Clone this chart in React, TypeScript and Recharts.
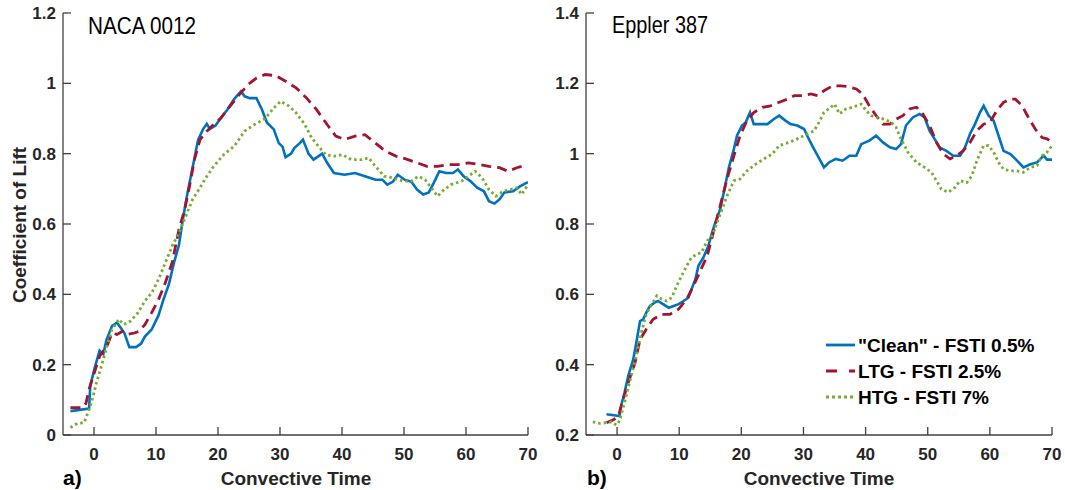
import { LineChart, Line, XAxis, YAxis } from 'recharts';

// [convective time, lift coefficient]
const nacaClean: [number, number][] = [
  [-3.8, 0.068], [-0.8, 0.075], [-0.6, 0.14], [0.1, 0.19], [0.9, 0.24], [1.5, 0.23], [2.0, 0.27],
  [2.9, 0.31], [3.7, 0.32], [4.3, 0.305], [4.9, 0.29], [5.7, 0.25], [6.8, 0.25], [7.6, 0.26],
  [8.2, 0.28], [9.3, 0.3], [10.4, 0.34], [11.2, 0.385], [12.1, 0.43], [12.9, 0.49], [13.7, 0.54],
  [14.3, 0.61], [15.1, 0.69], [15.9, 0.76], [16.8, 0.84], [17.6, 0.87], [18.2, 0.885], [18.7, 0.87],
  [19.6, 0.88], [20.4, 0.9], [21.5, 0.925], [22.6, 0.955], [23.7, 0.977], [24.3, 0.963], [25.1, 0.958],
  [26.2, 0.958], [27.1, 0.925], [27.9, 0.888], [29.0, 0.869], [29.8, 0.83], [30.4, 0.82], [30.9, 0.79],
  [31.8, 0.8], [32.3, 0.816], [33.2, 0.83], [33.7, 0.84], [34.6, 0.8], [35.4, 0.783], [36.8, 0.8],
  [37.6, 0.774], [38.7, 0.745], [40.4, 0.74], [42.1, 0.745], [43.7, 0.736], [45.4, 0.726], [46.5, 0.726],
  [47.3, 0.712], [48.2, 0.72], [49.0, 0.74], [50.1, 0.726], [51.2, 0.72], [52.1, 0.698], [53.1, 0.684],
  [54.0, 0.69], [54.8, 0.717], [55.7, 0.75], [56.8, 0.745], [57.9, 0.745], [58.7, 0.755], [59.6, 0.736],
  [60.7, 0.722], [61.8, 0.703], [62.9, 0.693], [63.7, 0.665], [64.6, 0.658], [65.4, 0.67], [66.2, 0.69],
  [67.6, 0.693], [68.7, 0.707], [70.0, 0.719],
];

const nacaLtg: [number, number][] = [
  [-3.8, 0.078], [-1.8, 0.078], [-1.3, 0.09], [-0.8, 0.13], [-0.2, 0.163], [0.9, 0.224], [2.1, 0.253],
  [2.9, 0.29], [3.7, 0.286], [4.6, 0.295], [5.4, 0.286], [6.5, 0.29], [7.3, 0.295], [8.2, 0.314],
  [9.3, 0.348], [10.4, 0.385], [11.5, 0.433], [12.6, 0.49], [13.7, 0.584], [14.6, 0.64], [15.4, 0.707],
  [16.2, 0.783], [17.1, 0.84], [18.2, 0.864], [19.3, 0.883], [20.4, 0.9], [21.5, 0.925], [23.2, 0.963],
  [24.8, 0.996], [26.2, 1.015], [27.6, 1.025], [29.3, 1.022], [30.9, 1.006], [32.6, 0.987], [34.3, 0.958],
  [35.9, 0.925], [37.6, 0.883], [39.0, 0.85], [40.4, 0.84], [42.1, 0.85], [43.7, 0.854], [45.4, 0.83],
  [47.0, 0.807], [48.7, 0.793], [50.3, 0.785], [52.1, 0.774], [53.7, 0.764], [55.4, 0.764], [57.1, 0.769],
  [58.7, 0.769], [60.4, 0.774], [62.1, 0.769], [63.7, 0.764], [65.4, 0.76], [66.8, 0.75], [68.2, 0.76],
  [69.0, 0.764], [69.8, 0.769],
];

const nacaHtg: [number, number][] = [
  [-3.8, 0.021], [-2.7, 0.033], [-1.6, 0.035], [-1.0, 0.063], [-0.4, 0.092], [0.4, 0.149], [1.2, 0.196],
  [2.1, 0.253], [2.9, 0.3], [4.0, 0.329], [4.8, 0.314], [5.9, 0.324], [7.1, 0.348], [8.2, 0.381],
  [9.3, 0.404], [10.4, 0.442], [11.5, 0.49], [12.6, 0.537], [13.7, 0.575], [14.8, 0.622], [15.9, 0.67],
  [17.1, 0.703], [18.2, 0.736], [19.3, 0.764], [20.9, 0.797], [22.6, 0.821], [24.3, 0.864], [25.9, 0.883],
  [27.6, 0.9], [29.0, 0.93], [30.1, 0.949], [31.5, 0.935], [32.6, 0.916], [34.0, 0.883], [35.1, 0.845],
  [36.2, 0.821], [37.4, 0.797], [38.7, 0.793], [40.1, 0.797], [41.5, 0.783], [43.2, 0.783], [44.3, 0.788],
  [45.4, 0.764], [46.8, 0.736], [48.2, 0.731], [49.8, 0.722], [51.2, 0.722], [52.3, 0.736], [53.4, 0.726],
  [54.6, 0.698], [55.4, 0.679], [56.5, 0.698], [57.6, 0.712], [59.3, 0.722], [60.4, 0.736], [61.5, 0.75],
  [62.6, 0.731], [63.7, 0.698], [64.8, 0.679], [66.0, 0.693], [67.1, 0.698], [68.2, 0.703], [69.0, 0.684],
  [69.8, 0.707],
];

const epplerClean: [number, number][] = [
  [-1.7, 0.259], [0.4, 0.254], [0.7, 0.287], [1.2, 0.32], [1.8, 0.368], [2.6, 0.415], [3.1, 0.463],
  [3.7, 0.524], [4.2, 0.529], [4.7, 0.548], [5.3, 0.567], [6.1, 0.577], [6.6, 0.581], [7.4, 0.572],
  [8.3, 0.562], [9.1, 0.567], [9.9, 0.572], [10.7, 0.581], [11.5, 0.591], [12.0, 0.615], [12.6, 0.643],
  [13.1, 0.681], [13.9, 0.705], [14.7, 0.738], [15.3, 0.776], [15.8, 0.804], [16.6, 0.842], [17.4, 0.909],
  [18.0, 0.961], [18.8, 1.013], [19.3, 1.051], [20.1, 1.08], [20.7, 1.089], [21.4, 1.117], [22.0, 1.084],
  [23.1, 1.084], [24.2, 1.084], [25.2, 1.098], [26.1, 1.108], [27.1, 1.094], [27.9, 1.084], [29.0, 1.08],
  [30.1, 1.07], [30.6, 1.051], [31.4, 1.023], [32.3, 0.994], [33.3, 0.961], [34.1, 0.975], [35.2, 0.985],
  [36.3, 0.98], [37.4, 0.994], [38.5, 0.994], [39.3, 1.027], [40.6, 1.037], [41.7, 1.051], [42.8, 1.032],
  [43.9, 1.018], [44.9, 1.013], [45.7, 1.027], [46.5, 1.08], [47.6, 1.103], [48.7, 1.113], [49.5, 1.103],
  [50.3, 1.065], [51.1, 1.042], [51.9, 1.018], [53.0, 1.008], [54.1, 0.994], [55.2, 0.994], [56.0, 1.018],
  [56.8, 1.056], [57.6, 1.084], [58.4, 1.117], [59.0, 1.136], [59.8, 1.108], [60.6, 1.094], [61.4, 1.051],
  [62.2, 1.008], [63.3, 0.999], [64.1, 0.985], [65.4, 0.961], [66.5, 0.97], [67.6, 0.975], [68.4, 0.99],
  [68.7, 0.994], [69.2, 0.983], [70.0, 0.983],
];

const epplerLtg: [number, number][] = [
  [-1.7, 0.235], [-0.6, 0.243], [0.2, 0.254], [1.0, 0.302], [1.8, 0.349], [2.9, 0.406], [3.7, 0.472],
  [4.7, 0.501], [5.8, 0.529], [7.2, 0.543], [8.5, 0.543], [9.9, 0.558], [11.2, 0.586], [12.3, 0.624],
  [13.4, 0.667], [14.5, 0.709], [15.5, 0.776], [16.6, 0.852], [17.7, 0.928], [18.8, 0.994], [19.8, 1.051],
  [20.9, 1.094], [22.0, 1.117], [23.4, 1.132], [24.7, 1.136], [26.1, 1.146], [27.4, 1.155], [28.5, 1.165],
  [29.8, 1.165], [31.2, 1.17], [32.3, 1.165], [33.3, 1.179], [34.7, 1.193], [36.0, 1.193], [37.1, 1.191],
  [38.5, 1.184], [39.5, 1.17], [40.6, 1.136], [41.7, 1.108], [42.8, 1.084], [43.9, 1.084], [44.9, 1.098],
  [46.0, 1.108], [47.1, 1.127], [48.2, 1.132], [49.2, 1.113], [50.3, 1.08], [51.4, 1.032], [52.5, 0.999],
  [53.6, 0.985], [54.6, 0.994], [55.7, 1.008], [56.8, 1.032], [57.9, 1.065], [59.0, 1.084], [60.0, 1.089],
  [61.1, 1.122], [62.2, 1.146], [63.3, 1.155], [64.1, 1.155], [65.2, 1.136], [66.2, 1.103], [67.3, 1.07],
  [68.4, 1.046], [69.2, 1.042], [70.0, 1.032],
];

const epplerHtg: [number, number][] = [
  [-3.9, 0.237], [-2.8, 0.233], [-1.7, 0.235], [-0.9, 0.237], [-0.1, 0.228], [0.4, 0.24], [1.2, 0.292],
  [2.0, 0.349], [3.1, 0.425], [3.9, 0.491], [4.7, 0.543], [5.6, 0.572], [6.4, 0.596], [7.2, 0.586],
  [8.0, 0.581], [8.8, 0.591], [9.6, 0.624], [10.4, 0.653], [11.2, 0.681], [12.0, 0.705], [12.8, 0.714],
  [13.6, 0.719], [14.5, 0.752], [15.3, 0.766], [16.1, 0.804], [16.9, 0.842], [17.7, 0.88], [18.8, 0.923],
  [19.8, 0.928], [20.9, 0.951], [22.3, 0.97], [23.6, 0.985], [25.0, 0.999], [26.1, 1.023], [27.7, 1.032],
  [29.0, 1.042], [30.6, 1.056], [31.7, 1.065], [32.5, 1.089], [33.3, 1.117], [34.4, 1.132], [35.0, 1.141],
  [35.8, 1.113], [36.8, 1.127], [37.9, 1.132], [39.3, 1.141], [40.1, 1.122], [40.9, 1.108], [42.0, 1.103],
  [43.0, 1.098], [44.1, 1.089], [44.9, 1.075], [45.7, 1.042], [46.8, 1.004], [48.2, 0.975], [49.5, 0.961],
  [50.6, 0.947], [51.4, 0.923], [52.2, 0.899], [53.3, 0.89], [54.4, 0.904], [55.2, 0.923], [56.3, 0.918],
  [57.1, 0.937], [57.9, 0.98], [59.0, 1.023], [59.8, 1.023], [60.6, 1.004], [61.4, 0.975], [62.2, 0.956],
  [63.3, 0.951], [64.3, 0.951], [65.4, 0.947], [66.5, 0.961], [67.6, 0.966], [68.4, 0.994], [69.2, 1.004],
  [70.0, 1.023],
];

const timeTicks = [0, 10, 20, 30, 40, 50, 60, 70];
const nacaTicks = [0, 0.2, 0.4, 0.6, 0.8, 1, 1.2];
const epplerTicks = [0.2, 0.4, 0.6, 0.8, 1, 1.2, 1.4];
const seriesNames = ['"Clean" - FSTI 0.5%', 'LTG - FSTI 2.5%', 'HTG - FSTI 7%'];

const FONT = '"Liberation Sans", Arial, sans-serif';
const AXIS = '#404040';
const TXT = '#262626';
const BLUE = '#0072BD';
const RED = '#A2142F';
const GREEN = '#77AC30';

const toPoints = (pairs: [number, number][]) => pairs.map(([t, cl]) => ({ t, cl }));

// MATLAB style: ticks point into the plot
function XTick(props: any) {
  const { x, y, payload } = props;
  return (
    <g>
      <line x1={x} y1={y} x2={x} y2={y - 8} stroke={AXIS} strokeWidth={1.3} />
      <text x={x} y={y + 25} textAnchor="middle" fontSize={17} fontWeight="bold" fill={TXT} fontFamily={FONT}>
        {payload.value}
      </text>
    </g>
  );
}

function YTick(props: any) {
  const { x, y, payload } = props;
  return (
    <g>
      <line x1={x} y1={y} x2={x + 8} y2={y} stroke={AXIS} strokeWidth={1.3} />
      <text x={x - 7} y={y} dy="0.36em" textAnchor="end" fontSize={17} fontWeight="bold" fill={TXT} fontFamily={FONT}>
        {`${+Number(payload.value).toFixed(1)}`}
      </text>
    </g>
  );
}

function Panel({ width, margin, yDomain, yTicks, yWidth, clean, ltg, htg }: any) {
  const axisLine = { stroke: AXIS, strokeWidth: 1.3 };
  return (
    <LineChart width={width} height={490} margin={margin}>
      <XAxis
        type="number"
        dataKey="t"
        domain={[-5, 70]}
        ticks={timeTicks}
        interval={0}
        allowDataOverflow
        height={30}
        tickSize={0}
        tickMargin={0}
        tickLine={false}
        axisLine={axisLine}
        tick={(p: any) => <XTick {...p} />}
      />
      <YAxis
        type="number"
        domain={yDomain}
        ticks={yTicks}
        interval={0}
        allowDataOverflow
        width={yWidth}
        tickSize={0}
        tickMargin={0}
        tickLine={false}
        axisLine={axisLine}
        tick={(p: any) => <YTick {...p} />}
      />
      <Line data={toPoints(clean)} dataKey="cl" type="linear" stroke={BLUE} strokeWidth={2.6} dot={false} isAnimationActive={false} />
      <Line data={toPoints(ltg)} dataKey="cl" type="linear" stroke={RED} strokeWidth={2.8} strokeDasharray="10 6" dot={false} isAnimationActive={false} />
      <Line data={toPoints(htg)} dataKey="cl" type="linear" stroke={GREEN} strokeWidth={2.8} strokeDasharray="2.5 3" dot={false} isAnimationActive={false} />
    </LineChart>
  );
}

export default function App() {
  const legendRows = [
    { color: BLUE, dash: undefined, y: 345 },
    { color: RED, dash: '11 12', y: 371 },
    { color: GREEN, dash: '3 3', y: 397 },
  ];
  return (
    <div style={{ position: 'absolute', left: 0, top: 0, width: 1065, height: 490, background: '#fff', overflow: 'hidden' }}>
      <div style={{ position: 'absolute', left: 0, top: 0 }}>
        <Panel
          width={540}
          margin={{ top: 13, right: 12, bottom: 25, left: 13 }}
          yDomain={[0, 1.2]}
          yTicks={nacaTicks}
          yWidth={50}
          clean={nacaClean}
          ltg={nacaLtg}
          htg={nacaHtg}
        />
      </div>
      <div style={{ position: 'absolute', left: 540, top: 0 }}>
        <Panel
          width={525}
          margin={{ top: 13, right: 13, bottom: 25, left: 6 }}
          yDomain={[0.2, 1.4]}
          yTicks={epplerTicks}
          yWidth={40}
          clean={epplerClean}
          ltg={epplerLtg}
          htg={epplerHtg}
        />
      </div>
      <svg width={1065} height={490} style={{ position: 'absolute', left: 0, top: 0, pointerEvents: 'none' }} fontFamily={FONT}>
        <text x={88} y={34} fontSize={24} fill="#000" textLength={108} lengthAdjust="spacingAndGlyphs">NACA 0012</text>
        <text x={612} y={33} fontSize={24} fill="#000" textLength={96} lengthAdjust="spacingAndGlyphs">Eppler 387</text>
        <text transform="translate(26,225) rotate(-90)" textAnchor="middle" fontSize={19} fontWeight="bold" fill={TXT}>
          Coefficient of Lift
        </text>
        <text x={296} y={485} textAnchor="middle" fontSize={19} fontWeight="bold" fill={TXT}>Convective Time</text>
        <text x={819} y={485} textAnchor="middle" fontSize={19} fontWeight="bold" fill={TXT}>Convective Time</text>
        <text x={63} y={485} fontSize={21} fontWeight="bold" fill="#000">a)</text>
        <text x={587} y={485} fontSize={21} fontWeight="bold" fill="#000">b)</text>
        {legendRows.map((r, i) => (
          <g key={seriesNames[i]}>
            <line x1={826} y1={r.y} x2={855} y2={r.y} stroke={r.color} strokeWidth={2.8} strokeDasharray={r.dash} />
            <text x={858} y={r.y + 7} fontSize={19} fontWeight="bold" fill="#000">{seriesNames[i]}</text>
          </g>
        ))}
      </svg>
    </div>
  );
}
